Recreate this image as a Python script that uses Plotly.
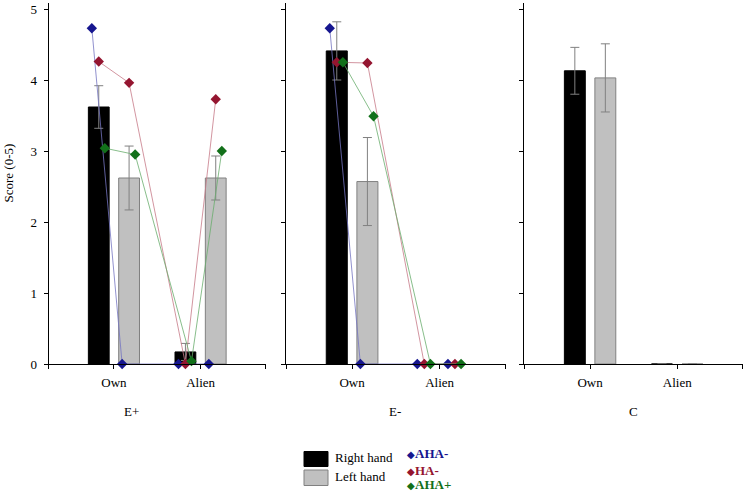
import plotly.graph_objects as go

# ---------------- data ----------------
categories = ["Own", "Alien"]
panels = ["E+", "E-", "C"]
hands = ["Right hand", "Left hand"]

# group means (bars) per panel: [Own, Alien]
right_hand = [[3.62, 0.17], [4.41, 0.0], [4.13, 0.0]]
right_err = [[0.30, 0.12], [0.41, 0.0], [0.33, 0.0]]
left_hand = [[2.62, 2.62], [2.57, 0.0], [4.03, 0.0]]
left_err = [[0.45, 0.31], [0.62, 0.0], [0.48, 0.0]]

# single patients per panel: [Own-Right, Own-Left, Alien-Right, Alien-Left]
patient_names = ["AHA-", "HA-", "AHA+"]
aha_minus = [[4.73, 0.0, 0.0, 0.0], [4.73, 0.0, 0.0, 0.0], None]
ha_minus = [[4.26, 3.96, 0.0, 3.73], [4.25, 4.24, 0.0, 0.0], None]
aha_plus = [[3.04, 2.95, 0.04, 3.00], [4.25, 3.49, 0.0, 0.0], None]

y_ticks = [0, 1, 2, 3, 4, 5]
y_title = "Score (0-5)"

# ---------------- style ----------------
FONT = "Liberation Serif, Times New Roman, serif"
HAND_OFF = 0.175
BAR_W = 0.24
XR = [-0.755, 1.755]
YR = [0, 5.085]
W, H = 747, 492
TOP, BOT = 3, 364
domains = [[48.5 / W, 266 / W], [286 / W, 505.7 / W], [524.3 / W, 743 / W]]
label_x = [131.7, 395, 633]


def py(p):
    """pixel row -> paper y"""
    return (BOT - p) / (BOT - TOP)


patients = [
    (patient_names[0], aha_minus, "#16168f", "#7575c2", -0.08),
    (patient_names[1], ha_minus, "#941530", "#c77a88", 0.0),
    (patient_names[2], aha_plus, "#12701a", "#6aad6d", 0.07),
]

fig = go.Figure()

for k in range(3):
    xa = "x" if k == 0 else f"x{k+1}"
    ya = "y" if k == 0 else f"y{k+1}"
    cat_x = list(range(len(categories)))
    fig.add_trace(go.Bar(
        x=[c - HAND_OFF for c in cat_x], y=right_hand[k], width=BAR_W,
        marker=dict(color="#000000", line=dict(color="#000000", width=1)),
        error_y=dict(type="data", array=right_err[k], color="#808080", thickness=1, width=4.5),
        name=hands[0], showlegend=False, xaxis=xa, yaxis=ya,
    ))
    fig.add_trace(go.Bar(
        x=[c + HAND_OFF for c in cat_x], y=left_hand[k], width=BAR_W,
        marker=dict(color="#c0c0c0", line=dict(color="#808080", width=1)),
        error_y=dict(type="data", array=left_err[k], color="#808080", thickness=1, width=4.5),
        name=hands[1], showlegend=False, xaxis=xa, yaxis=ya,
    ))
    for name, vals, col, lcol, off in patients:
        if vals[k] is None:
            continue
        px = [0 - HAND_OFF + off, 0 + HAND_OFF + off, 1 - HAND_OFF + off, 1 + HAND_OFF + off]
        fig.add_trace(go.Scatter(
            x=px, y=vals[k], mode="lines",
            line=dict(color=lcol, width=0.8), showlegend=False,
            xaxis=xa, yaxis=ya, cliponaxis=False,
        ))
        fig.add_trace(go.Scatter(
            x=px, y=vals[k], mode="markers", name=name,
            marker=dict(symbol="diamond", size=8, color=col),
            showlegend=False, xaxis=xa, yaxis=ya, cliponaxis=False,
        ))

layout = dict(
    width=W, height=H,
    margin=dict(l=0, r=0, t=TOP, b=H - BOT),
    plot_bgcolor="white", paper_bgcolor="white",
    font=dict(family=FONT, size=13, color="#000000"),
    barmode="overlay", showlegend=False,
)
for k in range(3):
    sx = "" if k == 0 else str(k + 1)
    layout[f"xaxis{sx}"] = dict(
        domain=domains[k], range=XR, anchor=f"y{sx}", automargin=False,
        tickmode="array", tickvals=[XR[0] + 0.001, 0, 1, XR[1] - 0.001],
        ticktext=["", categories[0], categories[1], ""],
        showline=True, linecolor="#000000", linewidth=1,
        ticks="outside", ticklen=4, tickcolor="#000000", tickwidth=1,
        showgrid=False, zeroline=False, ticklabelstandoff=2,
        tickfont=dict(family=FONT, size=13),
    )
    layout[f"yaxis{sx}"] = dict(
        domain=[0, 1], range=YR, anchor=f"x{sx}", automargin=False,
        tickmode="array", tickvals=y_ticks,
        showticklabels=(k == 0),
        showline=True, linecolor="#000000", linewidth=1,
        ticks="outside", ticklen=4, tickcolor="#000000", tickwidth=1,
        showgrid=False, zeroline=False, ticklabelstandoff=4,
        tickfont=dict(family=FONT, size=13),
    )

fig.update_layout(**layout)

# y-axis title
fig.add_annotation(text=y_title, x=8.5 / W, y=py(173), xref="paper", yref="paper",
                   showarrow=False, textangle=-90, xanchor="center", yanchor="middle",
                   font=dict(family=FONT, size=13, color="#000000"))

# panel labels
for k in range(3):
    fig.add_annotation(text=panels[k], x=label_x[k] / W, y=py(411),
                       xref="paper", yref="paper", showarrow=False,
                       font=dict(family=FONT, size=13), xanchor="center", yanchor="middle")

# legend: hand swatches
fig.add_shape(type="rect", xref="paper", yref="paper",
              x0=304 / W, x1=328 / W, y0=py(466.5), y1=py(451.5),
              fillcolor="#000000", line=dict(color="#000000", width=1))
fig.add_shape(type="rect", xref="paper", yref="paper",
              x0=304 / W, x1=328 / W, y0=py(485.5), y1=py(470),
              fillcolor="#c0c0c0", line=dict(color="#808080", width=1))
for txt, yy in zip(hands, [457.5, 476]):
    fig.add_annotation(text=txt, x=333 / W, y=py(yy), xref="paper", yref="paper",
                       showarrow=False, xanchor="left", yanchor="middle",
                       font=dict(family=FONT, size=13, color="#000000"))
# legend: patients
for (name, vals, col, lcol, off), yy in zip(patients, [453.5, 470, 484]):
    fig.add_annotation(text=f'<span style="font-size:10px">◆</span><b>{name}</b>',
                       x=405 / W, y=py(yy), xref="paper", yref="paper",
                       showarrow=False, xanchor="left", yanchor="middle",
                       font=dict(family=FONT, size=13, color=col))

fig.write_html("out.html", config={"displayModeBar": False},
               post_script="document.body.style.margin='0px';")
